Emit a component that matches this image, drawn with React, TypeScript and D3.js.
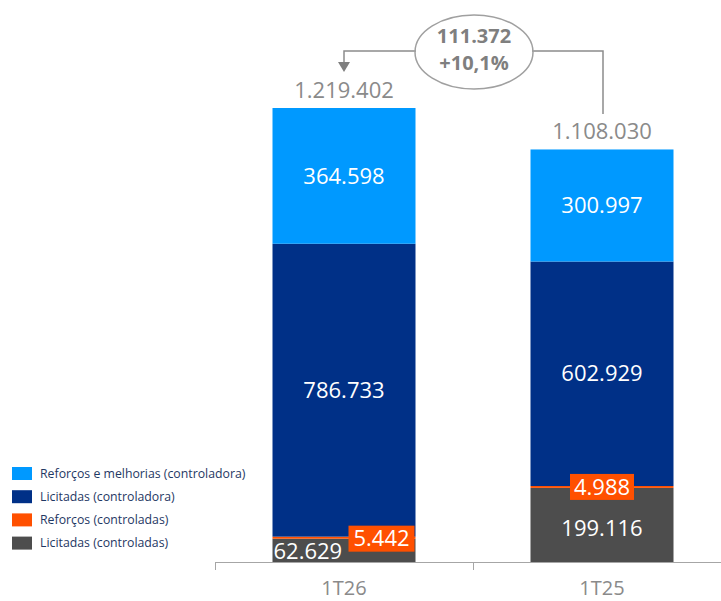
import React from "react";
import * as d3 from "d3";

const categories = ["1T26", "1T25"];
const seriesNames = [
  "Licitadas (controladas)",
  "Reforços (controladas)",
  "Licitadas (controladora)",
  "Reforços e melhorias (controladora)",
];
const licitadasControladas = [62629, 199116];
const reforcosControladas = [5442, 4988];
const licitadasControladora = [786733, 602929];
const reforcosControladora = [364598, 300997];
const totals = [1219402, 1108030];
const diffLabel = ["111.372", "+10,1%"];
const colors = ["#4d4d4d", "#ff5000", "#003087", "#0099ff"];
const legendOrder = [3, 2, 1, 0];

const fmt = (v: number) => d3.format(",")(v).replace(/,/g, ".");

export default function App() {
  const W = 721, H = 601;
  const x = d3.scaleBand().domain(categories).range([215, 731]).paddingInner(0).paddingOuter(0);
  const barW = 143;
  const y = d3.scaleLinear().domain([0, 1219402]).range([562, 108]);
  const rows = categories.map((c, i) => ({
    cat: c,
    v0: licitadasControladas[i],
    v1: reforcosControladas[i],
    v2: licitadasControladora[i],
    v3: reforcosControladora[i],
  }));
  const stack = d3.stack<any>().keys(["v0", "v1", "v2", "v3"])(rows);
  const bx = (c: string) => (x(c) as number) + x.bandwidth() / 2 - barW / 2;
  const cx = (c: string) => (x(c) as number) + x.bandwidth() / 2;
  const font = "'Open Sans', sans-serif";
  const fs = 22;

  return (
    <svg width={W} height={H} style={{ position: "absolute", left: 0, top: 0 }}>
      <rect width={W} height={H} fill="#fff" />
      {stack.map((s, si) =>
        s.map((d, i) => (
          <rect
            key={si + "-" + i}
            x={bx(categories[i])}
            width={barW}
            y={y(d[1])}
            height={y(d[0]) - y(d[1])}
            fill={colors[si]}
          />
        ))
      )}
      {/* value labels */}
      {categories.map((c, i) => {
        const s3 = stack[3][i], s2 = stack[2][i];
        return (
          <g key={c} fontFamily={font}>
            <text x={cx(c)} y={(y(s3[0]) + y(s3[1])) / 2} dy="0.35em" textAnchor="middle" fill="#fff" fontSize={fs}>
              {fmt(reforcosControladora[i])}
            </text>
            <text x={cx(c)} y={(y(s2[0]) + y(s2[1])) / 2} dy="0.35em" textAnchor="middle" fill="#fff" fontSize={fs}>
              {fmt(licitadasControladora[i])}
            </text>
            <text x={cx(c)} y={y(s3[1]) - 18} dy="0.35em" textAnchor="middle" fill="#8a8a8a" fontSize={fs}>
              {fmt(totals[i])}
            </text>
          </g>
        );
      })}
      {/* 1T26 small labels */}
      {(() => {
        const c = categories[0];
        const s1 = stack[1][0];
        const ym = (y(s1[0]) + y(s1[1])) / 2;
        return (
          <g fontFamily={font}>
            <rect x={bx(c) + 76} y={ym - 12} width={66} height={26} fill="#ff5000" />
            <text x={bx(c) + 109} y={ym + 1} dy="0.35em" textAnchor="middle" fill="#fff" fontSize={fs}>
              {fmt(reforcosControladas[0])}
            </text>
            <text x={bx(c) + 1} y={y(0) - 11} dy="0.35em" textAnchor="start" fill="#fff" fontSize={fs}>
              {fmt(licitadasControladas[0])}
            </text>
          </g>
        );
      })()}
      {(() => {
        const c = categories[1];
        const s1 = stack[1][1];
        const s0 = stack[0][1];
        const ym = (y(s1[0]) + y(s1[1])) / 2;
        return (
          <g fontFamily={font}>
            <rect x={cx(c) - 32} y={ym - 13} width={64} height={26} fill="#ff5000" />
            <text x={cx(c)} y={ym} dy="0.35em" textAnchor="middle" fill="#fff" fontSize={fs}>
              {fmt(reforcosControladas[1])}
            </text>
            <text x={cx(c)} y={(y(s0[0]) + y(s0[1])) / 2 + 3} dy="0.35em" textAnchor="middle" fill="#fff" fontSize={fs}>
              {fmt(licitadasControladas[1])}
            </text>
          </g>
        );
      })()}
      {/* axis */}
      <g stroke="#a6a6a6" strokeWidth={1}>
        <line x1={215} x2={721} y1={562.5} y2={562.5} />
        <line x1={215.5} x2={215.5} y1={562} y2={570} />
        <line x1={473.5} x2={473.5} y1={562} y2={570} />
      </g>
      {categories.map((c) => (
        <text key={c} x={cx(c)} y={588} dy="0.35em" textAnchor="middle" fill="#8a8a8a" fontSize={20} fontFamily={font}>
          {c}
        </text>
      ))}
      {/* difference annotation */}
      <g fill="none" stroke="#8c8c8c" strokeWidth={1.5}>
        <polyline points={`416,51 344,51 344,64`} />
        <polyline points={`532,51 603,51 603,114`} />
        <ellipse cx={474} cy={52} rx={59} ry={37} stroke="#a0a0a0" />
      </g>
      <path d="M338,62 L350,62 L344,72 Z" fill="#7f7f7f" />
      <g fontFamily={font} fontWeight="bold" fill="#7f7f7f" fontSize={20} textAnchor="middle">
        <text x={474} y={36} dy="0.35em">{diffLabel[0]}</text>
        <text x={474} y={63} dy="0.35em">{diffLabel[1]}</text>
      </g>
      {/* legend */}
      {legendOrder.map((si, k) => (
        <g key={si} transform={`translate(12, ${467 + k * 23.2})`}>
          <rect width={20} height={13} fill={colors[si]} />
          <text x={28} y={6.5} dy="0.35em" fill="#1f3864" fontSize={12.3} fontFamily={font}>
            {seriesNames[si]}
          </text>
        </g>
      ))}
    </svg>
  );
}
